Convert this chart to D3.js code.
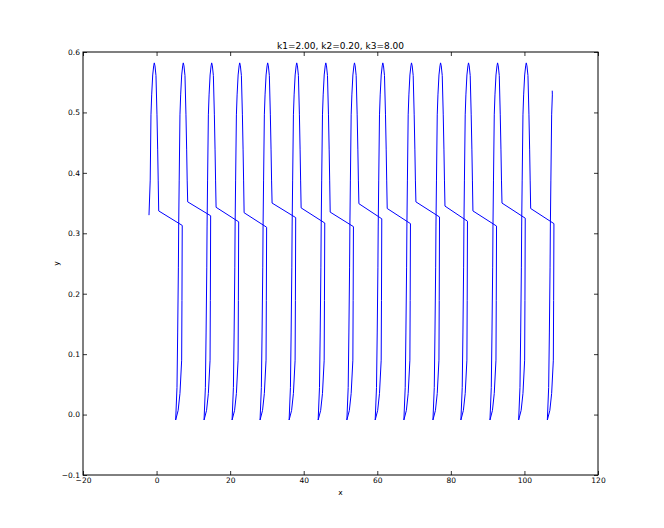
<!DOCTYPE html>
<html>
<head>
<meta charset="utf-8">
<script src="https://cdn.jsdelivr.net/npm/d3@7"></script>
<style>
  html, body { margin: 0; padding: 0; background: #fff; }
  svg { display: block; font-family: "DejaVu Sans", sans-serif; }
</style>
</head>
<body>
<svg id="chart" width="664" height="528"></svg>
<script>
// ---- data ----
const titleText = "k1=2.00, k2=0.20, k3=8.00";
const xLabel = "x";
const yLabel = "y";
const xTicks = [-20, 0, 20, 40, 60, 80, 100, 120];
const yTicks = [-0.1, 0.0, 0.1, 0.2, 0.3, 0.4, 0.5, 0.6];
const xDomain = [-20, 120];
const yDomain = [-0.1, 0.6];

// x position of each spike maximum (last one is not reached)
const peakX = [-0.62, 7.26, 14.98, 22.6, 30.2, 38.1, 46.0, 53.8, 61.5, 69.3, 77.2, 84.8, 92.7, 100.5, 108.3];
// level where each slanted segment starts / ends
const diagStartY = [0.337, 0.352, 0.343, 0.334, 0.350, 0.342, 0.335, 0.349, 0.341, 0.352, 0.345, 0.337, 0.350, 0.341];
const diagEndY   = [0.313, 0.329, 0.319, 0.310, 0.326, 0.317, 0.311, 0.324, 0.316, 0.327, 0.320, 0.312, 0.325, 0.316];
// spike shape read from one cycle: [x offset from peak, y]
const riseShape = [[-2.07, -0.009], [-1.71, 0.045], [-1.52, 0.135], [-1.33, 0.244], [-1.25, 0.312],
                   [-1.11, 0.388], [-0.90, 0.496], [-0.71, 0.529], [-0.43, 0.562], [-0.16, 0.577], [0, 0.582]];
const fallShape = [[0.19, 0.577], [0.46, 0.561], [0.73, 0.496], [0.92, 0.438], [1.06, 0.388]];
const diagStartDX = 1.20;   // from peak
const diagEndDX = -0.28;    // from next peak
// trough shape: [x offset from next peak, y] from slanted-segment end down to the minimum
const troughShape = [[-0.36, 0.189], [-0.44, 0.090], [-0.90, 0.035], [-1.39, 0.007], [-2.07, -0.009]];
const startPoint = [-2.06, 0.330];
const endPoint = [107.56, 0.536];

// ---- layout ----
const svg = d3.select("#chart");
const L = 83, R = 598, T = 52, B = 475;
const x = d3.scaleLinear().domain(xDomain).range([L, R]);
const y = d3.scaleLinear().domain(yDomain).range([B, T]);

// build trajectory from the data arrays
const pts = [startPoint];
riseShape.forEach(([dx, v]) => { if (v > startPoint[1]) pts.push([peakX[0] + dx, v]); });
for (let i = 0; i < diagStartY.length; i++) {
  fallShape.forEach(([dx, v]) => pts.push([peakX[i] + dx, v]));
  pts.push([peakX[i] + diagStartDX, diagStartY[i]]);
  pts.push([peakX[i + 1] + diagEndDX, diagEndY[i]]);
  troughShape.forEach(([dx, v]) => pts.push([peakX[i + 1] + dx, v]));
  if (i + 1 < diagStartY.length) {
    riseShape.slice(1).forEach(([dx, v]) => pts.push([peakX[i + 1] + dx, v]));
  } else {
    riseShape.slice(1).forEach(([dx, v]) => { if (v < endPoint[1]) pts.push([peakX[i + 1] + dx, v]); });
    pts.push(endPoint);
  }
}

const line = d3.line().x(d => x(d[0])).y(d => y(d[1]));
svg.append("path")
  .datum(pts)
  .attr("d", line)
  .attr("fill", "none")
  .attr("stroke", "#0000ff")
  .attr("stroke-width", 1)
  .attr("stroke-linejoin", "round");

// axes (ticks inward, on all four sides)
const fmtX = d3.format("d");
const fmtY = d3.format(".1f");
const axB = svg.append("g").attr("transform", `translate(0,${B})`)
  .call(d3.axisBottom(x).tickValues(xTicks).tickSize(-4).tickPadding(3).tickFormat(fmtX));
const axL = svg.append("g").attr("transform", `translate(${L},0)`)
  .call(d3.axisLeft(y).tickValues(yTicks).tickSize(-4).tickPadding(3).tickFormat(fmtY));
const axT = svg.append("g").attr("transform", `translate(0,${T})`)
  .call(d3.axisTop(x).tickValues(xTicks).tickSize(-4).tickFormat(""));
const axR = svg.append("g").attr("transform", `translate(${R},0)`)
  .call(d3.axisRight(y).tickValues(yTicks).tickSize(-4).tickFormat(""));
[axB, axL, axT, axR].forEach(g => {
  g.select(".domain").remove();
  g.selectAll("line").attr("stroke", "#000").attr("stroke-width", 0.8);
  g.selectAll("text").attr("font-family", "DejaVu Sans, sans-serif").attr("font-size", 7.5).attr("fill", "#000");
});

// frame
svg.append("rect")
  .attr("x", L).attr("y", T).attr("width", R - L).attr("height", B - T)
  .attr("fill", "none").attr("stroke", "#000").attr("stroke-width", 1);

// title and labels
svg.append("text").attr("x", (L + R) / 2).attr("y", 49.3)
  .attr("text-anchor", "middle").attr("font-size", 9).attr("fill", "#000").text(titleText);
svg.append("text").attr("x", (L + R) / 2).attr("y", 495)
  .attr("text-anchor", "middle").attr("font-size", 7.5).attr("fill", "#000").text(xLabel);
svg.append("text").attr("transform", `translate(59,${(T + B) / 2}) rotate(-90)`)
  .attr("text-anchor", "middle").attr("font-size", 7.5).attr("fill", "#000").text(yLabel);
</script>
</body>
</html>
